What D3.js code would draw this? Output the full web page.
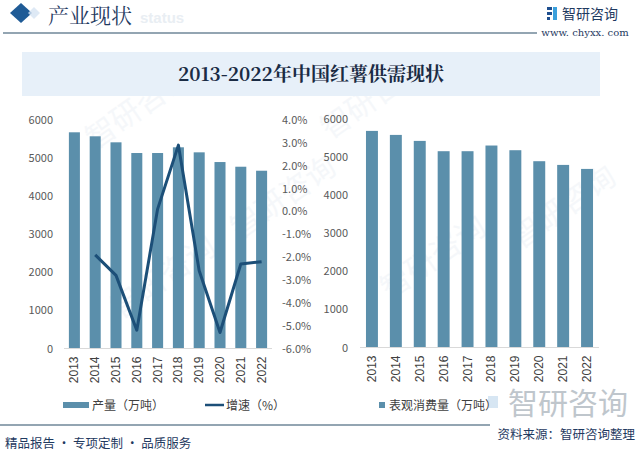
<!DOCTYPE html>
<html><head><meta charset="utf-8">
<script src="https://cdn.jsdelivr.net/npm/d3@7"></script>
<style>
html,body{margin:0;padding:0;background:#fff;}
svg{display:block;font-family:"Noto Sans CJK SC","Noto Sans",sans-serif;}
</style></head>
<body><svg id="c" width="640" height="457"></svg>
<script>
const years = ["2013","2014","2015","2016","2017","2018","2019","2020","2021","2022"];
const production = [5677,5572,5414,5133,5133,5283,5151,4896,4773,4668];
const growth = [null,-1.9,-2.8,-5.2,0.1,2.9,-2.6,-5.3,-2.3,-2.2];
const consumption = [5675,5570,5413,5143,5143,5292,5169,4881,4784,4679];
const leftTicks = [0,1000,2000,3000,4000,5000,6000];
const pctTicks = [-6,-5,-4,-3,-2,-1,0,1,2,3,4];

const svg = d3.select("#c");
const barColor = "#5b8fab", lineColor = "#1c4f78", textCol = "#595959";

// faint watermarks
const wm = [[95,150],[330,140],[120,320],[390,300],[240,240],[520,250]];
wm.forEach(([x,y])=>{
  svg.append("text").attr("x",x).attr("y",y).attr("font-size",30).attr("fill","#e4ebf2").attr("opacity",0.35)
    .attr("transform",`rotate(-35,${x},${y})`).text("智研咨询");
});

// header
svg.append("path").attr("d","M21,3 L32,13 L21,23 L10,13 Z").attr("fill","#1f5b96");
svg.append("path").attr("d","M34,7 L40,13 L34,19 L28,13 Z").attr("fill","#d6e4f2").attr("opacity",0.8);
svg.append("text").attr("x",140).attr("y",23).attr("font-size",15).attr("font-weight","bold")
  .attr("fill","#e9eef3").attr("font-family","Arial, sans-serif").text("status");
svg.append("text").attr("x",48).attr("y",23).attr("font-size",21).attr("fill","#1f3a5f")
  .attr("font-family","'Noto Serif CJK SC','Noto Sans CJK SC',serif").text("产业现状");
svg.append("line").attr("x1",3).attr("x2",537).attr("y1",33).attr("y2",33).attr("stroke","#6f8799").attr("stroke-width",1.5);
// logo
const lg = svg.append("g");
lg.append("rect").attr("x",547).attr("y",7).attr("width",5).attr("height",3).attr("fill","#1f4f8f");
lg.append("rect").attr("x",547).attr("y",12).attr("width",5).attr("height",3).attr("fill","#1f4f8f");
lg.append("rect").attr("x",547).attr("y",17).attr("width",3).attr("height",3).attr("fill","#1f4f8f");
lg.append("rect").attr("x",553).attr("y",7).attr("width",4).attr("height",13).attr("fill","#3aa0dc");
svg.append("text").attr("x",562).attr("y",19).attr("font-size",14).attr("fill","#1f3a5f").text("智研咨询");
svg.append("text").attr("x",585).attr("y",36).attr("font-size",10).attr("text-anchor","middle")
  .attr("fill","#1f3a5f").attr("font-family","'DejaVu Serif','Liberation Serif',serif").text("www. chyxx. com");

// title box
svg.append("rect").attr("x",22).attr("y",52).attr("width",578).attr("height",44).attr("fill","#e7f0f9");
svg.append("text").attr("x",311).attr("y",81).attr("text-anchor","middle").attr("font-size",19)
  .attr("font-weight","bold").attr("fill","#1a2b44")
  .attr("font-family","'Noto Serif CJK SC','Noto Sans CJK SC',serif").text("2013-2022年中国红薯供需现状");

function yearAxis(g, x, y0){
  g.append("line").attr("x1",x.range()[0]).attr("x2",x.range()[1]).attr("y1",y0).attr("y2",y0)
    .attr("stroke","#d9d9d9").attr("stroke-width",1);
  years.forEach(yr=>{
    const cx = x(yr)+x.bandwidth()/2;
    g.append("text").attr("transform",`translate(${cx+4},${y0+8}) rotate(-90)`)
      .attr("text-anchor","end").attr("font-size",12).attr("fill","#404040")
      .attr("font-family","'Liberation Sans',Arial,sans-serif").text(yr);
  });
}

// LEFT CHART
const xL = d3.scaleBand().domain(years).range([64,272]).paddingInner(0.47).paddingOuter(0.235);
const yL = d3.scaleLinear().domain([0,6000]).range([348.5,120]);
const yP = d3.scaleLinear().domain([-6,4]).range([348.5,120]);
const gL = svg.append("g");
gL.selectAll("rect.b").data(production).join("rect")
  .attr("x",(d,i)=>xL(years[i])).attr("width",xL.bandwidth())
  .attr("y",d=>yL(d)).attr("height",d=>yL(0)-yL(d)).attr("fill",barColor);
leftTicks.forEach(t=>{
  gL.append("text").attr("x",53).attr("y",yL(t)+4).attr("text-anchor","end").attr("font-size",11)
    .attr("fill",textCol).text(t);
});
pctTicks.forEach(t=>{
  gL.append("text").attr("x",282).attr("y",yP(t)+4).attr("text-anchor","start").attr("font-size",11)
    .attr("fill",textCol).text(t.toFixed(1)+"%");
});
yearAxis(gL, xL, 348.5);
const line = d3.line().defined(d=>d!=null)
  .x((d,i)=>xL(years[i])+xL.bandwidth()/2).y(d=>yP(d));
gL.append("path").datum(growth).attr("d",line).attr("fill","none")
  .attr("stroke",lineColor).attr("stroke-width",3).attr("stroke-linejoin","round");

// RIGHT CHART
const xR = d3.scaleBand().domain(years).range([360,599]).paddingInner(0.5).paddingOuter(0.25);
const yR = d3.scaleLinear().domain([0,6000]).range([347.5,118.5]);
const gR = svg.append("g");
gR.selectAll("rect.b").data(consumption).join("rect")
  .attr("x",(d,i)=>xR(years[i])).attr("width",xR.bandwidth())
  .attr("y",d=>yR(d)).attr("height",d=>yR(0)-yR(d)).attr("fill",barColor);
leftTicks.forEach(t=>{
  gR.append("text").attr("x",348).attr("y",yR(t)+4).attr("text-anchor","end").attr("font-size",11)
    .attr("fill",textCol).text(t);
});
yearAxis(gR, xR, 347.5);

// footer watermark (behind legend)
svg.append("rect").attr("x",488).attr("y",396).attr("width",10).attr("height",12).attr("fill","#c6dcee").attr("opacity",0.7);
svg.append("text").attr("x",568).attr("y",414).attr("text-anchor","middle").attr("font-size",30)
  .attr("fill","#aab3bb").attr("opacity",0.75).text("智研咨询");

// legends
svg.append("rect").attr("x",63).attr("y",402).attr("width",26).attr("height",6).attr("fill",barColor);
svg.append("text").attr("x",92).attr("y",410).attr("font-size",12).attr("fill","#404040").text("产量（万吨）");
svg.append("line").attr("x1",205).attr("x2",224).attr("y1",405).attr("y2",405).attr("stroke",lineColor).attr("stroke-width",2.5);
svg.append("text").attr("x",226).attr("y",410).attr("font-size",12).attr("fill","#404040").text("增速（%）");
svg.append("rect").attr("x",379).attr("y",402).attr("width",6).attr("height",6).attr("fill",barColor);
svg.append("text").attr("x",389).attr("y",410).attr("font-size",12).attr("fill","#404040").text("表观消费量（万吨）");

// footer
svg.append("line").attr("x1",0).attr("x2",490).attr("y1",425).attr("y2",425).attr("stroke","#6f8799").attr("stroke-width",1.5);
svg.append("text").attr("x",635).attr("y",439).attr("text-anchor","end").attr("font-size",12.5)
  .attr("fill","#1f3a5f").text("资料来源：智研咨询整理");
svg.append("text").attr("x",5).attr("y",448).attr("font-size",12.5).attr("fill","#1f3a5f").text("精品报告 · 专项定制 · 品质服务");
</script></body></html>
